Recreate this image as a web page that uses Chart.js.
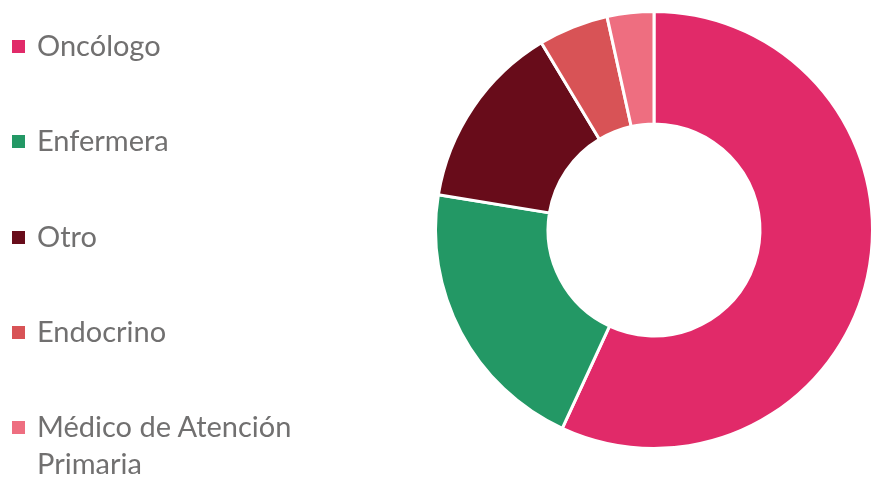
<!DOCTYPE html>
<html>
<head>
<meta charset="utf-8">
<script src="https://cdn.jsdelivr.net/npm/chart.js@4"></script>
<style>
  html, body { margin: 0; padding: 0; background: #fff; }
  #wrap { position: relative; width: 871px; height: 478px; overflow: hidden; }
  #myChart { position: absolute; left: 0; top: 0; }
  .item { position: absolute; left: 12px; width: 300px; font-family: Lato, sans-serif;
          font-size: 29px; line-height: 37px; color: #717070; }
  .item .box { position: absolute; left: 0; top: 14px; width: 13px; height: 13px; }
  .item .txt { margin-left: 25px; display: block; }
</style>
</head>
<body>
<div id="wrap">
  <canvas id="myChart" width="880" height="478"></canvas>
  <div id="legend"></div>
</div>
<script>
const labels = [
  "Oncólogo",
  "Enfermera",
  "Otro",
  "Endocrino",
  "Médico de Atención Primaria",
];
const values = [33, 12, 8, 3, 2];
const colors = ["#E12A69", "#239865", "#680C1A", "#D85356", "#EE6E80"];

const ctx_1 = document.getElementById("myChart");

new Chart(ctx_1, {
  type: "doughnut",
  data: {
    labels: labels,
    datasets: [
      {
        data: values,
        backgroundColor: colors,
        borderColor: "#ffffff",
        borderWidth: 3,
      },
    ],
  },
  options: {
    responsive: false,
    animation: false,
    cutout: "48.5%",
    layout: {
      padding: { left: 434, top: 10, bottom: 28, right: 6 },
    },
    plugins: {
      legend: { display: false },
      tooltip: { enabled: false },
    },
  },
});

// legend built from the same arrays
const legend = document.getElementById("legend");
labels.forEach((name, i) => {
  const item = document.createElement("div");
  item.className = "item";
  item.style.top = (26 + i * 95.3) + "px";
  item.innerHTML = '<span class="box" style="background:' + colors[i] + '"></span>' +
    '<span class="txt">' + name + "</span>";
  legend.appendChild(item);
});
</script>
</body>
</html>
